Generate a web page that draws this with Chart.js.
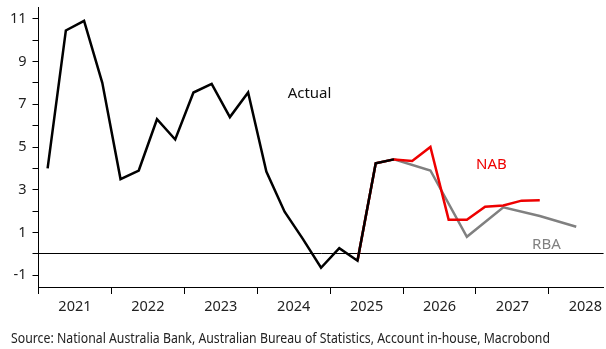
<!DOCTYPE html>
<html>
<head>
<meta charset="utf-8">
<script src="https://cdn.jsdelivr.net/npm/chart.js@4.4.1/dist/chart.umd.min.js"></script>
<style>
  html, body { margin: 0; padding: 0; background: #fff; }
  #wrap { width: 606px; height: 349px; position: relative; }
</style>
</head>
<body>
<div id="wrap"><canvas id="chart" width="606" height="349"></canvas></div>
<script>
// Quarterly CPI-style series (% y/y)
const actualQuarters = ['2021Q1','2021Q2','2021Q3','2021Q4','2022Q1','2022Q2','2022Q3','2022Q4',
  '2023Q1','2023Q2','2023Q3','2023Q4','2024Q1','2024Q2','2024Q3','2024Q4',
  '2025Q1','2025Q2','2025Q3','2025Q4'];
const actualValues = [4.0, 10.45, 10.9, 8.0, 3.5, 3.9, 6.3, 5.35,
  7.55, 7.95, 6.4, 7.55, 3.85, 1.97, 0.7, -0.65,
  0.27, -0.32, 4.24, 4.42];

const nabQuarters = ['2025Q2','2025Q3','2025Q4','2026Q1','2026Q2','2026Q3','2026Q4',
  '2027Q1','2027Q2','2027Q3','2027Q4'];
const nabValues = [-0.32, 4.24, 4.42, 4.35, 5.0, 1.6, 1.6, 2.21, 2.26, 2.49, 2.51];

const rbaQuarters = ['2025Q2','2025Q3','2025Q4','2026Q2','2026Q4','2027Q2','2027Q4','2028Q2'];
const rbaValues = [-0.32, 4.24, 4.42, 3.9, 0.8, 2.18, 1.77, 1.27];

const yearLabels = ['2021','2022','2023','2024','2025','2026','2027','2028'];
const yTickValues = [-1, 0, 1, 2, 3, 4, 5, 6, 7, 8, 9, 10, 11];

const sourceText = 'Source: National Australia Bank, Australian Bureau of Statistics, Account in-house, Macrobond';

// quarter label -> position in the middle of that quarter on a year axis
function quarterPos(q) {
  const year = parseInt(q.slice(0, 4), 10);
  const n = parseInt(q.slice(5), 10);
  return year + (n - 0.5) / 4;
}
function toPoints(quarters, values) {
  return quarters.map((q, i) => ({ x: quarterPos(q), y: values[i] }));
}

const FONT = '"Noto Sans", sans-serif';
const TEXT = '#222';

const firstYear = parseInt(yearLabels[0], 10);
const lastYear = parseInt(yearLabels[yearLabels.length - 1], 10);

// series name labels placed in data space, plus the source note
const textPlugin = {
  id: 'seriesText',
  afterDatasetsDraw(chart) {
    const { ctx, scales: { x, y } } = chart;
    ctx.save();
    ctx.font = '15px ' + FONT;
    ctx.textAlign = 'left';
    ctx.textBaseline = 'alphabetic';
    ctx.fillStyle = '#111';
    ctx.fillText('Actual', x.getPixelForValue(2024.417), y.getPixelForValue(7.31));
    ctx.fillStyle = '#ee0000';
    ctx.fillText('NAB', x.getPixelForValue(2027.0), y.getPixelForValue(3.97));
    ctx.fillStyle = '#808080';
    ctx.fillText('RBA', x.getPixelForValue(2027.77), y.getPixelForValue(0.23));
    ctx.fillStyle = TEXT;
    ctx.font = '14px ' + FONT;
    ctx.fillText(sourceText, 11, 343, 539);
    ctx.restore();
  }
};

new Chart(document.getElementById('chart'), {
  type: 'line',
  data: {
    datasets: [
      {
        label: 'Actual',
        data: toPoints(actualQuarters, actualValues),
        borderColor: '#000',
        borderWidth: 2.5,
        pointRadius: 0,
        tension: 0
      },
      {
        label: 'NAB',
        data: toPoints(nabQuarters, nabValues),
        borderColor: '#ee0000',
        borderWidth: 2.5,
        pointRadius: 0,
        tension: 0
      },
      {
        label: 'RBA',
        data: toPoints(rbaQuarters, rbaValues),
        borderColor: '#808080',
        borderWidth: 2.5,
        pointRadius: 0,
        tension: 0
      }
    ]
  },
  options: {
    responsive: false,
    animation: false,
    devicePixelRatio: 1,
    layout: { padding: { top: 0, right: 2, left: 0, bottom: 0 } },
    plugins: { legend: { display: false }, tooltip: { enabled: false } },
    scales: {
      x: {
        type: 'linear',
        min: firstYear,
        max: lastYear + 0.75,
        afterBuildTicks(scale) {
          const t = [];
          yearLabels.forEach(lbl => {
            const yr = parseInt(lbl, 10);
            t.push({ value: yr });
            t.push({ value: yr + 0.5 });
          });
          scale.ticks = t;
        },
        afterFit(scale) { scale.height = 62; },
        ticks: {
          autoSkip: false,
          maxRotation: 0,
          padding: 4,
          color: TEXT,
          font: { family: FONT, size: 14.5 },
          callback(v) {
            return Number.isInteger(v) ? '' : String(Math.floor(v));
          }
        },
        grid: {
          drawOnChartArea: false,
          tickLength: 7,
          tickColor: ctx => (ctx.tick && Number.isInteger(ctx.tick.value)) ? '#000' : 'rgba(0,0,0,0)'
        },
        border: { display: true, color: '#000', width: 1 }
      },
      y: {
        type: 'linear',
        min: -1.55,
        max: 11.55,
        afterBuildTicks(scale) {
          scale.ticks = yTickValues.map(v => ({ value: v }));
        },
        afterFit(scale) {
          scale.width = 38.5;
          scale.paddingTop = 7;
          scale.paddingBottom = 0;
        },
        ticks: {
          autoSkip: false,
          padding: 6,
          color: TEXT,
          font: { family: FONT, size: 14.5 },
          callback(v) {
            return Math.abs(v % 2) === 1 ? String(v) : '';
          }
        },
        grid: {
          drawOnChartArea: true,
          tickLength: 6,
          lineWidth: 1,
          color: ctx => (ctx.tick && ctx.tick.value === 0) ? '#000' : 'rgba(0,0,0,0)',
          tickColor: '#000'
        },
        border: { display: true, color: '#000', width: 1 }
      }
    }
  },
  plugins: [textPlugin]
});
</script>
</body>
</html>
